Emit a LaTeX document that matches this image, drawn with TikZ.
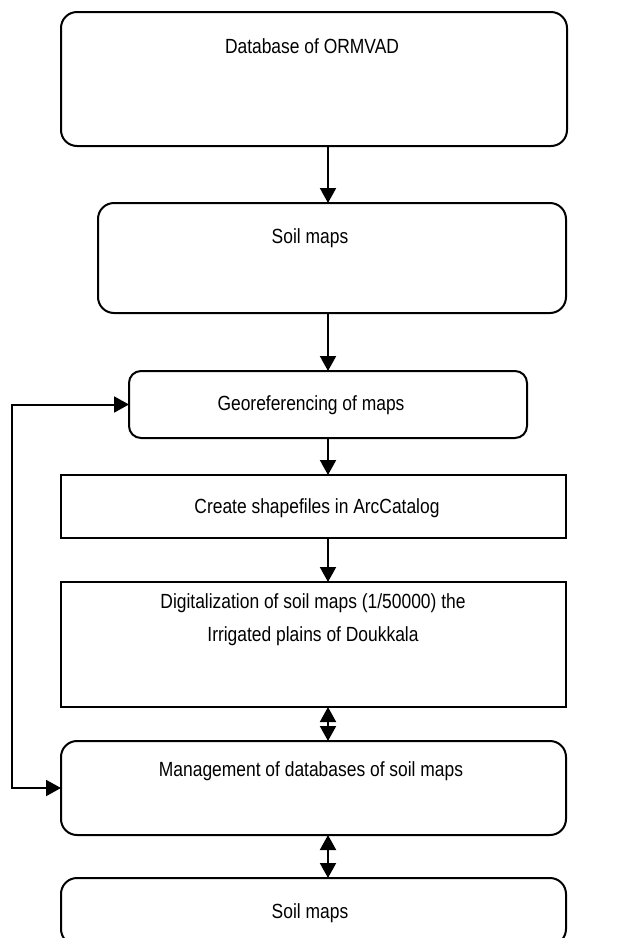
\documentclass[tikz,border=0pt]{standalone}
\usepackage{fontspec}
\setmainfont[FakeStretch=0.85]{Liberation Sans}
\usepackage{tikz}
\usetikzlibrary{arrows.meta, calc}

\begin{document}
\begin{tikzpicture}[x=1pt, y=-1pt, line width=2pt, >={Triangle[length=15pt, width=16pt]},
    box/.style={draw, rounded corners=16pt, inner sep=0pt, outer sep=0pt},
    flatbox/.style={draw, inner sep=0pt, outer sep=0pt},
    txt/.style={font=\fontsize{20.5}{33}\selectfont, align=center, inner sep=0pt}]
    \useasboundingbox (0,0) rectangle (626,938);
    \clip (0,0) rectangle (626,938);
    \node[box, minimum width=506pt, minimum height=134pt] (db) at (314,79) {};
    \node[box, minimum width=468pt, minimum height=110pt] (soil) at (332,258) {};
    \node[box, rounded corners=12pt, minimum width=398pt, minimum height=67pt] (geo) at (328,404.5) {};
    \node[flatbox, minimum width=505pt, minimum height=63pt] (shp) at (313.5,506.5) {};
    \node[flatbox, minimum width=505pt, minimum height=125pt] (digit) at (313.5,644.5) {};
    \node[box, minimum width=505pt, minimum height=94pt] (mgmt) at (313.5,788) {};
    \node[box, minimum width=505pt, minimum height=67pt] (soilout) at (313.5,911.5) {};
    \node[txt] (dbtxt) at (312,46) {Database of ORMVAD};
    \node[txt] (soiltxt) at (310,238) {Soil maps};
    \node[txt] (geotxt) at (311,405) {Georeferencing of maps};
    \node[txt] (shptxt) at (317,508) {Create shapefiles in ArcCatalog};
    \node[txt] (digittxt) at (313,620) {Digitalization of soil maps (1/50000) the\\Irrigated plains of Doukkala};
    \node[txt] (mgmttxt) at (311,771) {Management of databases of soil maps};
    \node[txt] (soilouttxt) at (310,913) {Soil maps};
    \coordinate (ax) at (328,0);
    \coordinate (fb) at (12,0);
    \draw[->] (db.south -| ax) -- (soil.north -| ax);
    \draw[->] (soil.south -| ax) -- (geo.north -| ax);
    \draw[->] (geo.south -| ax) -- (shp.north -| ax);
    \draw[->] (shp.south -| ax) -- (digit.north -| ax);
    \draw[<->] (digit.south -| ax) -- (mgmt.north -| ax);
    \draw[<->] (mgmt.south -| ax) -- (soilout.north -| ax);
    \draw[<->] (geo.west) -- (geo.west -| fb) -- (mgmt.west -| fb) -- (mgmt.west);
\end{tikzpicture}
\end{document}
